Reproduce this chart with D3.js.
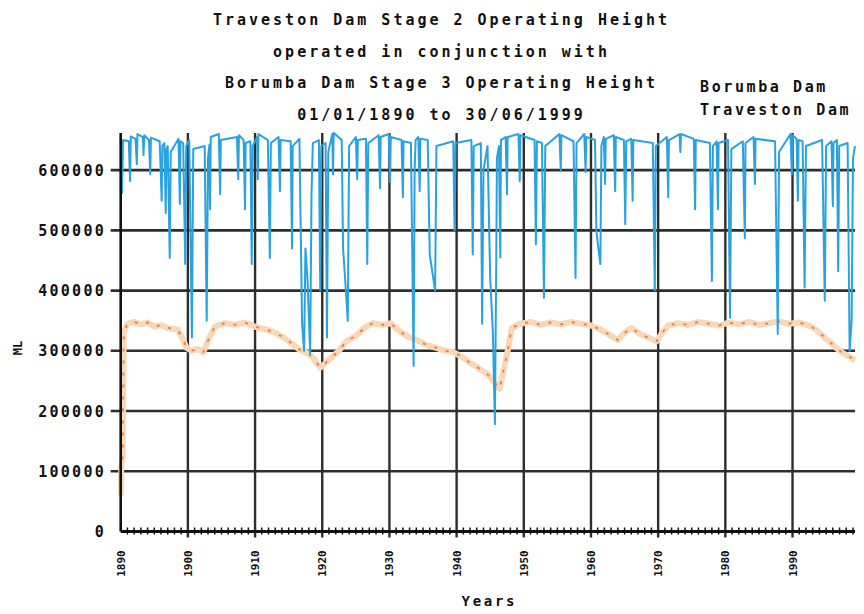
<!DOCTYPE html>
<html>
<head>
<meta charset="utf-8">
<script src="https://cdn.jsdelivr.net/npm/d3@7/dist/d3.min.js"></script>
<style>
  html, body { margin: 0; padding: 0; background: #fff; overflow: hidden; }
  svg { display: block; }
  svg text { font-family: "DejaVu Sans Mono", monospace; font-weight: bold; fill: #111; }
</style>
</head>
<body>
<script>
// Title lines and legend labels
const titleLines = [
    'Traveston Dam Stage 2 Operating Height',
    'operated in conjunction with',
    'Borumba Dam Stage 3 Operating Height',
    '01/01/1890 to 30/06/1999'
];
const legendLabels = ['Borumba Dam', 'Traveston Dam'];

// Axis ticks
const yTicks = [0, 100000, 200000, 300000, 400000, 500000, 600000];
const xDecades = [1890, 1900, 1910, 1920, 1930, 1940, 1950, 1960, 1970, 1980, 1990];

// Borumba Dam storage (ML) as [year, ML]
const borumbaLevel = [
    [1890.0, 60000], [1890.1, 110000], [1890.3, 125000], [1890.45, 330000], [1891, 345000],
    [1892, 348000], [1893, 344000], [1894, 347000], [1895, 340000], [1896, 343000],
    [1897, 338000], [1898.5, 335000], [1899.3, 318000], [1899.8, 305000], [1900.5, 300000],
    [1901.5, 303000], [1902.3, 298000], [1903.2, 322000], [1904, 340000], [1905.5, 346000],
    [1907, 343000], [1908.5, 347000], [1910, 340000], [1911.5, 336000], [1913, 330000],
    [1914.3, 322000], [1915.5, 312000], [1916.6, 302000], [1917.5, 298000], [1918.5, 290000],
    [1919.7, 272000], [1920.5, 280000], [1921.5, 290000], [1922.5, 300000], [1923.5, 315000],
    [1925, 325000], [1926.5, 340000], [1927.5, 346000], [1929, 343000], [1930.2, 346000],
    [1931.2, 335000], [1932.5, 325000], [1934, 318000], [1935.5, 310000], [1937, 305000],
    [1938.3, 300000], [1939.5, 298000], [1940.8, 290000], [1942, 280000], [1943.2, 272000],
    [1944.5, 262000], [1945.6, 248000], [1946.4, 237000], [1947, 268000], [1947.6, 300000],
    [1948.2, 338000], [1949.5, 345000], [1951, 348000], [1952.5, 343000], [1954, 347000],
    [1955.5, 344000], [1957, 348000], [1958.5, 345000], [1960, 342000], [1961.5, 335000],
    [1962.8, 326000], [1964, 318000], [1965, 330000], [1966, 338000], [1967.3, 328000],
    [1968.5, 322000], [1969.8, 316000], [1970.6, 330000], [1971.5, 342000], [1973, 346000],
    [1974.5, 343000], [1976, 348000], [1977.5, 345000], [1979, 342000], [1980.5, 347000],
    [1982, 344000], [1983.5, 348000], [1985, 343000], [1986.5, 346000], [1988, 349000],
    [1989.5, 345000], [1991, 347000], [1992.5, 342000], [1993.5, 335000], [1994.5, 325000],
    [1995.5, 315000], [1996.5, 305000], [1997.5, 296000], [1998.5, 290000], [1999.3, 284000]
];

// Traveston Dam storage (ML) as [year, ML]
const travestonLevel = [
    [1890.0, 655000], [1890.2, 562000], [1890.35, 650000],
    [1891.2, 648000], [1891.4, 582000], [1891.5, 656000],
    [1892.2, 652000], [1892.4, 610000], [1892.5, 660000],
    [1893.3, 655000], [1893.4, 625000], [1893.5, 658000],
    [1894.2, 650000], [1894.4, 593000], [1894.5, 654000],
    [1895.8, 648000], [1896.1, 549000], [1896.2, 640000],
    [1896.5, 645000], [1896.7, 529000], [1896.8, 635000],
    [1897.0, 640000], [1897.3, 454000], [1897.45, 630000],
    [1898.6, 652000], [1898.8, 544000], [1898.9, 648000],
    [1899.3, 645000], [1899.6, 444000], [1899.75, 640000],
    [1900.2, 650000], [1900.6, 322000], [1900.8, 635000],
    [1902.5, 640000], [1902.8, 350000], [1903.0, 620000],
    [1903.2, 642000], [1903.3, 535000], [1903.4, 655000],
    [1904.6, 660000], [1904.8, 560000], [1904.9, 650000],
    [1907.3, 655000], [1907.5, 585000], [1907.6, 658000],
    [1908.3, 650000], [1908.5, 535000], [1908.6, 645000],
    [1909.3, 648000], [1909.5, 444000], [1909.65, 640000],
    [1910.3, 655000], [1910.4, 585000], [1910.5, 660000],
    [1911.9, 650000], [1912.2, 454000], [1912.35, 645000],
    [1913.5, 655000], [1913.7, 565000], [1913.8, 650000],
    [1915.3, 648000], [1915.5, 470000], [1915.6, 640000],
    [1916.6, 652000], [1917.0, 345000], [1917.3, 300000], [1917.5, 470000],
    [1917.8, 420000], [1918.2, 295000], [1918.4, 560000], [1918.6, 645000],
    [1919.5, 650000], [1919.7, 400000], [1919.85, 640000],
    [1920.5, 645000], [1920.7, 322000], [1920.9, 630000],
    [1921.5, 660000], [1921.6, 593000], [1921.7, 662000],
    [1922.9, 650000], [1923.1, 470000], [1923.4, 420000], [1923.8, 350000], [1924.0, 640000],
    [1925.0, 655000], [1925.2, 585000], [1925.3, 650000],
    [1926.5, 652000], [1926.7, 444000], [1926.85, 645000],
    [1928.4, 658000], [1928.6, 570000], [1928.7, 655000],
    [1929.9, 660000], [1930.1, 580000], [1930.2, 655000],
    [1931.8, 650000], [1932.0, 555000], [1932.1, 648000],
    [1933.2, 645000], [1933.6, 275000], [1933.75, 600000], [1933.9, 650000],
    [1934.3, 655000], [1934.5, 565000], [1934.6, 652000],
    [1935.7, 650000], [1936.0, 460000], [1936.4, 430000], [1936.8, 400000], [1937.0, 640000],
    [1939.5, 648000], [1939.7, 500000], [1939.85, 645000],
    [1942.2, 650000], [1942.4, 460000], [1942.55, 640000],
    [1943.6, 645000], [1943.8, 345000], [1944.0, 600000],
    [1944.6, 640000], [1945.0, 420000], [1945.4, 330000], [1945.7, 178000], [1945.9, 450000], [1946.0, 620000],
    [1946.3, 640000], [1946.5, 455000], [1946.6, 650000],
    [1947.3, 655000], [1947.5, 560000], [1947.6, 655000],
    [1949.2, 660000], [1949.4, 582000], [1949.5, 658000],
    [1951.6, 650000], [1951.8, 477000], [1951.95, 648000],
    [1952.7, 645000], [1953.0, 388000], [1953.2, 640000],
    [1955.3, 660000], [1955.5, 600000], [1955.6, 658000],
    [1957.4, 648000], [1957.7, 421000], [1957.85, 645000],
    [1959.0, 660000], [1959.2, 597000], [1959.3, 655000],
    [1960.6, 650000], [1960.8, 500000], [1961.1, 470000], [1961.4, 444000], [1961.55, 640000],
    [1961.9, 655000], [1962.1, 577000], [1962.2, 652000],
    [1963.4, 658000], [1963.6, 565000], [1963.7, 655000],
    [1964.9, 650000], [1965.1, 510000], [1965.25, 648000],
    [1966.0, 652000], [1966.2, 549000], [1966.3, 650000],
    [1969.2, 645000], [1969.5, 400000], [1969.65, 640000],
    [1971.3, 655000], [1971.5, 555000], [1971.6, 650000],
    [1973.2, 660000], [1973.3, 630000], [1973.4, 660000],
    [1975.3, 652000], [1975.5, 535000], [1975.6, 650000],
    [1977.7, 645000], [1978.0, 416000], [1978.15, 640000],
    [1978.7, 648000], [1978.9, 535000], [1979.0, 645000],
    [1980.4, 650000], [1980.7, 355000], [1980.9, 635000],
    [1982.6, 648000], [1982.9, 487000], [1983.0, 645000],
    [1984.2, 655000], [1984.4, 577000], [1984.5, 652000],
    [1987.4, 648000], [1987.8, 328000], [1988.0, 630000],
    [1989.7, 660000], [1989.9, 593000], [1990.0, 658000],
    [1990.6, 652000], [1990.8, 549000], [1990.9, 650000],
    [1991.5, 648000], [1991.8, 405000], [1992.0, 640000],
    [1994.4, 650000], [1994.8, 383000], [1995.0, 640000],
    [1995.8, 648000], [1996.0, 540000], [1996.1, 645000],
    [1996.6, 650000], [1996.8, 432000], [1996.95, 640000],
    [1998.2, 645000], [1998.5, 300000], [1998.8, 350000], [1999.0, 620000], [1999.3, 640000]
];

const width = 864;
const height = 614;
const margin = { top: 131, right: 9, bottom: 82.5, left: 120.7 };
const innerWidth = width - margin.left - margin.right;
const innerHeight = height - margin.top - margin.bottom;

const svg = d3.select('body').append('svg')
    .attr('width', width)
    .attr('height', height);

const chart = svg.append('g')
    .attr('transform', `translate(${margin.left},${margin.top})`);

const xScale = d3.scaleLinear().domain([1890, 1999.3]).range([0, innerWidth]);
const yScale = d3.scaleLinear().domain([0, 665000]).range([innerHeight, 0]);

// grid lines
chart.selectAll('.hgrid')
    .data(yTicks.filter(v => v > 0))
    .enter().append('line')
    .attr('x1', -10).attr('x2', innerWidth)
    .attr('y1', d => yScale(d)).attr('y2', d => yScale(d))
    .attr('stroke', '#2e2e2e').attr('stroke-width', 2.6);

chart.selectAll('.vgrid')
    .data(xDecades.filter(v => v > 1890))
    .enter().append('line')
    .attr('x1', d => xScale(d)).attr('x2', d => xScale(d))
    .attr('y1', 2).attr('y2', innerHeight + 6)
    .attr('stroke', '#2e2e2e').attr('stroke-width', 2.4);

const line = d3.line().x(d => xScale(d[0])).y(d => yScale(d[1]));

// Borumba: faint peach band with orange speckle
chart.append('path')
    .datum(borumbaLevel)
    .attr('d', line)
    .attr('fill', 'none')
    .attr('stroke', '#f8d8b8')
    .attr('stroke-width', 6)
    .attr('stroke-linejoin', 'round');

chart.append('path')
    .datum(borumbaLevel)
    .attr('d', line)
    .attr('fill', 'none')
    .attr('stroke', '#ef7a40')
    .attr('stroke-width', 1.8)
    .attr('stroke-dasharray', '3 9');

// Traveston
chart.append('path')
    .datum(travestonLevel)
    .attr('d', line)
    .attr('fill', 'none')
    .attr('stroke', '#2aa2e0')
    .attr('stroke-width', 2)
    .attr('stroke-linejoin', 'round');

// y axis
chart.append('line')
    .attr('x1', 0).attr('x2', 0)
    .attr('y1', 2).attr('y2', innerHeight)
    .attr('stroke', '#111').attr('stroke-width', 2.6);

chart.selectAll('.ylabel')
    .data(yTicks)
    .enter().append('text')
    .attr('x', -17)
    .attr('y', d => yScale(d) + 5.5)
    .attr('text-anchor', 'end')
    .attr('textLength', d => String(d).length * 11.3 - 2.3)
    .attr('lengthAdjust', 'spacing')
    .style('font-size', '15px')
    .text(d => d);

// x axis with yearly minor ticks
chart.append('line')
    .attr('x1', 0).attr('x2', innerWidth)
    .attr('y1', innerHeight).attr('y2', innerHeight)
    .attr('stroke', '#111').attr('stroke-width', 3);

chart.selectAll('.minor')
    .data(d3.range(1891, 2000).filter(v => v % 10 !== 0))
    .enter().append('line')
    .attr('x1', d => xScale(d)).attr('x2', d => xScale(d))
    .attr('y1', innerHeight - 4).attr('y2', innerHeight + 3)
    .attr('stroke', '#111').attr('stroke-width', 1.5);

chart.selectAll('.xlabel')
    .data(xDecades)
    .enter().append('text')
    .attr('transform', d => `translate(${xScale(d) + 4},${innerHeight + 32}) rotate(-90)`)
    .attr('text-anchor', 'middle')
    .style('font-size', '11px')
    .text(d => d);

// axis titles
svg.append('text')
    .attr('transform', 'translate(22,348) rotate(-90)')
    .attr('text-anchor', 'middle')
    .style('font-size', '12px')
    .text('ML');

svg.append('text')
    .attr('x', 488).attr('y', 606)
    .attr('text-anchor', 'middle')
    .attr('textLength', 53)
    .attr('lengthAdjust', 'spacing')
    .style('font-size', '14px')
    .text('Years');

// title
svg.selectAll('.title')
    .data(titleLines)
    .enter().append('text')
    .attr('x', 440)
    .attr('y', (d, i) => 25 + i * 31.7)
    .attr('text-anchor', 'middle')
    .attr('textLength', d => d.length * 12.03 - 3)
    .attr('lengthAdjust', 'spacing')
    .style('font-size', '15px')
    .text(d => d);

// legend
svg.selectAll('.legend')
    .data(legendLabels)
    .enter().append('text')
    .attr('x', 700)
    .attr('y', (d, i) => 92 + i * 23)
    .attr('textLength', d => d.length * 11.63 - 2.6)
    .attr('lengthAdjust', 'spacing')
    .style('font-size', '15px')
    .text(d => d);
</script>
</body>
</html>
